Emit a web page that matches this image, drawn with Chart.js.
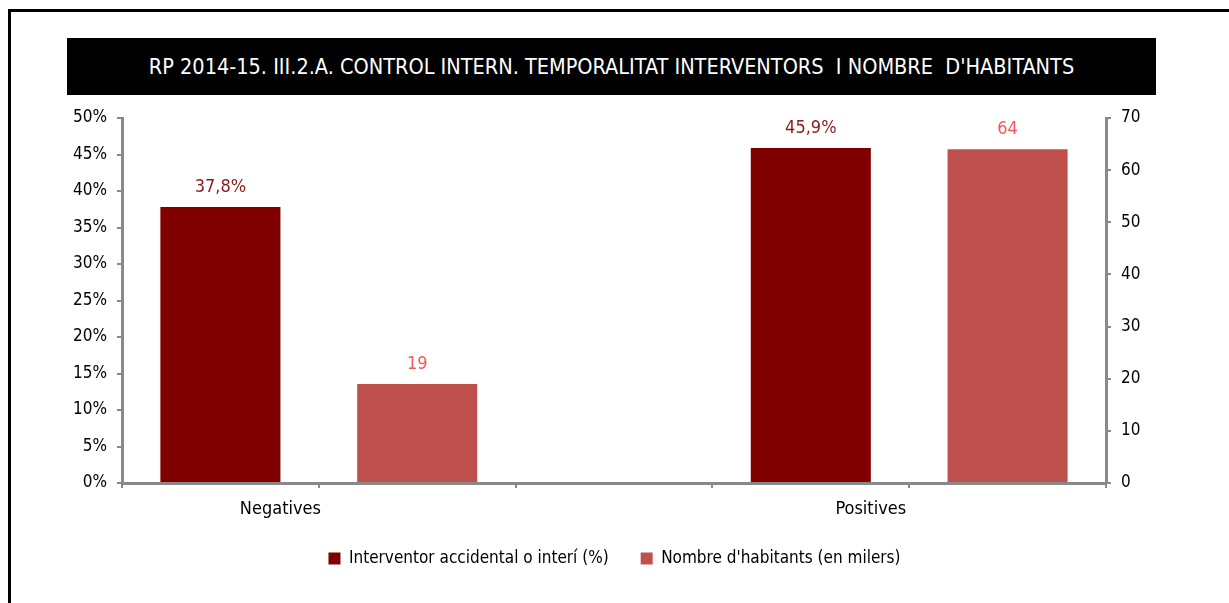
<!DOCTYPE html>
<html>
<head>
<meta charset="utf-8">
<script src="https://cdn.jsdelivr.net/npm/chart.js@4"></script>
<style>
  html, body { margin:0; padding:0; width:1229px; height:603px; overflow:hidden; background:#fff; }
  #frame { position:absolute; left:8px; top:9px; width:1240px; height:620px; border:3px solid #000; box-sizing:border-box; }
  #title { position:absolute; left:67px; top:38px; width:1089px; height:57px; background:#000; color:#fff;
           font-family:"Liberation Sans Narrow","Arial Narrow","DejaVu Sans Condensed",sans-serif; font-size:21.5px;
           display:flex; align-items:center; justify-content:center; letter-spacing:0; }
  #wrap { position:absolute; left:0; top:0; width:1229px; height:603px; }
</style>
</head>
<body>
<div id="frame"></div>
<div id="title">RP 2014-15. III.2.A. CONTROL INTERN. TEMPORALITAT INTERVENTORS&nbsp; I NOMBRE&nbsp; D'HABITANTS</div>
<div id="wrap"><canvas id="c" width="1229" height="603"></canvas></div>
<script>
const categories = ['Negatives', 'Positives'];
const seriesNames = ['Interventor accidental o interí (%)', "Nombre d'habitants (en milers)"];
const interventorPct = [37.8, 45.9];
const habitantsMilers = [19, 64];
const leftTicks = [0, 5, 10, 15, 20, 25, 30, 35, 40, 45, 50];
const rightTicks = [0, 10, 20, 30, 40, 50, 60, 70];

const FONT = '"Liberation Sans Narrow","Arial Narrow","DejaVu Sans Condensed",sans-serif';
const AXIS = '#898989';
const DARK = '#800000';
const LIGHT = '#c0504d';

// slots: [cat0 s1, cat0 s2, gap, cat1 s1, cat1 s2]
const slotLabels = [categories[0], '', '', categories[1], ''];
const dataDark = [interventorPct[0], null, null, interventorPct[1], null];
const dataLight = [null, habitantsMilers[0], null, null, habitantsMilers[1]];

const valueLabels = {
  id: 'valueLabels',
  afterDatasetsDraw(chart) {
    const ctx = chart.ctx;
    ctx.save();
    ctx.font = '18px ' + FONT;
    ctx.textAlign = 'center';
    ctx.textBaseline = 'bottom';
    chart.data.datasets.forEach((ds, di) => {
      const meta = chart.getDatasetMeta(di);
      meta.data.forEach((el, i) => {
        const v = ds.data[i];
        if (v === null || v === undefined) return;
        ctx.fillStyle = ds.labelColor;
        const txt = di === 0 ? v.toFixed(1).replace('.', ',') + '%' : String(v);
        ctx.fillText(txt, el.x, el.y - 11);
      });
    });
    ctx.restore();
  }
};

new Chart(document.getElementById('c'), {
  type: 'bar',
  data: {
    labels: slotLabels,
    datasets: [
      { label: seriesNames[0], data: dataDark, backgroundColor: DARK, yAxisID: 'y', labelColor: '#8b1a1a' },
      { label: seriesNames[1], data: dataLight, backgroundColor: LIGHT, yAxisID: 'y1', labelColor: '#f05a5a' }
    ]
  },
  options: {
    responsive: false,
    animation: false,
    events: [],
    grouped: false,
    categoryPercentage: 1,
    barPercentage: 0.61,
    layout: { padding: { left: 10, right: 10, top: 118, bottom: 26 } },
    plugins: {
      legend: {
        position: 'bottom',
        labels: {
          boxWidth: 12, boxHeight: 12, padding: 32, color: '#000',
          font: { family: FONT, size: 17 }
        }
      },
      tooltip: { enabled: false },
      title: { display: false }
    },
    scales: {
      x: {
        offset: true,
        grid: { display: true, drawOnChartArea: false, offset: true, tickLength: 5, color: AXIS, lineWidth: 2 },
        border: { display: true, color: AXIS, width: 3 },
        ticks: { color: '#000', font: { family: FONT, size: 18 }, padding: 11, labelOffset: 60, maxRotation: 0, autoSkip: false },
        afterFit(s) { s.height = 35; }
      },
      y: {
        position: 'left',
        min: 0, max: 50,
        afterBuildTicks(s) { s.ticks = leftTicks.map(v => ({ value: v })); },
        grid: { display: true, drawOnChartArea: false, tickLength: 5, color: AXIS, lineWidth: 2 },
        border: { display: true, color: AXIS, width: 3 },
        ticks: { color: '#000', font: { family: FONT, size: 17 }, padding: 10, callback: v => v + '%' },
        afterFit(s) { s.width = 112; }
      },
      y1: {
        position: 'right',
        min: 0, max: 70,
        afterBuildTicks(s) { s.ticks = rightTicks.map(v => ({ value: v })); },
        grid: { display: true, drawOnChartArea: false, tickLength: 5, color: AXIS, lineWidth: 2 },
        border: { display: true, color: AXIS, width: 3 },
        ticks: { color: '#000', font: { family: FONT, size: 17 }, padding: 10 },
        afterFit(s) { s.width = 113; }
      }
    }
  },
  plugins: [valueLabels]
});
</script>
</body>
</html>
